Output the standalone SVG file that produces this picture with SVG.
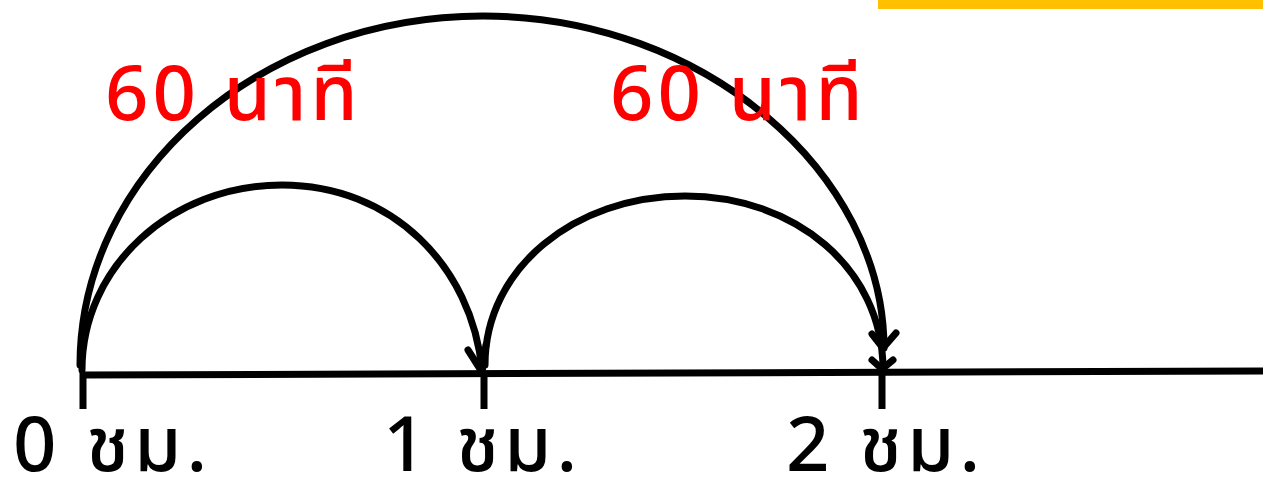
<svg xmlns="http://www.w3.org/2000/svg" width="1263" height="481" viewBox="0 0 1263 481">
<style>
.ln{fill:none;stroke:#000;stroke-width:7;stroke-linecap:round;stroke-linejoin:round}
.ax{fill:none;stroke:#000;stroke-width:7}
.lbl{font-family:"Noto Sans","Noto Sans Thai","DejaVu Sans",sans-serif;font-size:76px;font-weight:500;fill:#000;letter-spacing:5px}
.red{font-family:"Noto Sans","Noto Sans Thai","DejaVu Sans",sans-serif;font-size:76px;font-weight:500;fill:#ff0000;letter-spacing:4px}
</style>
<rect x="878" y="0" width="385" height="9" fill="#ffc000"/>
<g id="axis">
<path class="ax" d="M82,375 L1263,371"/>
<path class="ax" d="M83,372 V409 M484,372 V409 M882,370 V409"/>
</g>
<g id="connectors">
<path class="ln" d="M82,370 C82,266 172,185 282,185 C392,185 472,266 482,370"/>
<polyline class="ln" points="468,350 482,372 486,345"/>
<path class="ln" d="M485,365 C485,268 575,196 685,196 C795,196 882,268 883,368"/>
<polyline class="ln" points="872,360 882,369 893,360"/>
<path class="ln" d="M80,365 C80,174 260,16 483,16 C705,16 884,174 884,348"/>
<polyline class="ln" points="872,334 883,348 896,333"/>
</g>
<g id="label-red-1"><text class="red" x="105" y="120">60 นาที</text></g>
<g id="label-red-2"><text class="red" x="610" y="120">60 นาที</text></g>
<g id="tick-0"><text class="lbl" x="13" y="471">0 ชม.</text></g>
<g id="tick-1"><text class="lbl" x="383" y="471">1 ชม.</text></g>
<g id="tick-2"><text class="lbl" x="786" y="471">2 ชม.</text></g>
</svg>
